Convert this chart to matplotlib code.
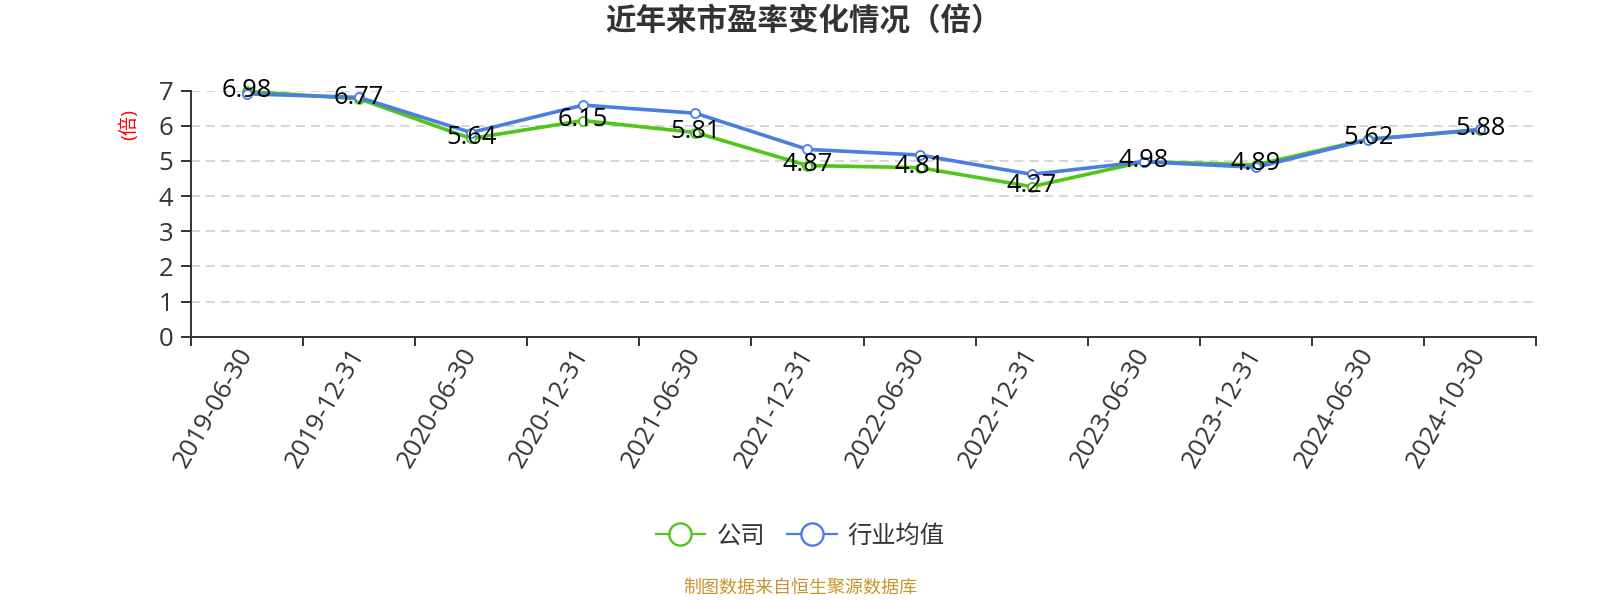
import matplotlib
matplotlib.use("Agg")
import matplotlib.pyplot as plt
from matplotlib.lines import Line2D

plt.rcParams['font.family'] = ['Open Sans', 'Noto Sans CJK SC', 'DejaVu Sans']

dates = ['2019-06-30', '2019-12-31', '2020-06-30', '2020-12-31', '2021-06-30', '2021-12-31',
         '2022-06-30', '2022-12-31', '2023-06-30', '2023-12-31', '2024-06-30', '2024-10-30']
company = [6.98, 6.77, 5.64, 6.15, 5.81, 4.87, 4.81, 4.27, 4.98, 4.89, 5.62, 5.88]
industry = [6.91, 6.81, 5.81, 6.59, 6.36, 5.33, 5.17, 4.62, 4.98, 4.82, 5.61, 5.90]
series_names = ['公司', '行业均值']
yticks = [0, 1, 2, 3, 4, 5, 6, 7]

green = '#52c41a'
blue = '#4a7ee0'
axis_c = '#333333'

W, H = 1600, 600
fig = plt.figure(figsize=(16, 6), dpi=100)
ax = fig.add_axes([190.7 / W, (H - 336.7) / H, 1345.7 / W, 246.0 / H])

x = list(range(len(dates)))
ax.plot(x, company, color=green, lw=2.6, marker='o', ms=6.5, mfc='white', mec=green, mew=1.3, zorder=3,
        clip_on=False)
ax.plot(x, industry, color=blue, lw=2.6, marker='o', ms=6.5, mfc='white', mec=blue, mew=1.3, zorder=4,
        clip_on=False)

for i, v in enumerate(company):
    ax.annotate(f'{v:.2f}', (i, v), xytext=(0, -3.8), textcoords='offset points',
                ha='center', va='baseline', fontsize=18.3, color='black', zorder=10)

ax.set_xlim(-0.5, len(dates) - 0.5)
ax.set_ylim(0, 7)
ax.set_yticks(yticks)
ax.set_yticklabels([str(t) for t in yticks])

ax.set_xticks(x)
ax.set_xticklabels(dates, rotation=60, ha='right', va='center', rotation_mode='anchor')
ax.set_xticks([i - 0.5 for i in range(len(dates) + 1)], minor=True)
ax.tick_params(axis='x', which='major', length=0, pad=9.5, labelsize=18.5, labelcolor=axis_c)
ax.tick_params(axis='x', which='minor', length=6.5, width=1.4, color=axis_c, direction='out')
ax.tick_params(axis='y', length=7, width=1.4, color=axis_c, pad=5.5, labelsize=18.5, labelcolor=axis_c)

for s in ['top', 'right']:
    ax.spines[s].set_visible(False)
for s in ['left', 'bottom']:
    ax.spines[s].set_color(axis_c)
    ax.spines[s].set_linewidth(1.4)

ax.yaxis.grid(True, linestyle=(0, (5.9, 3.9)), color='#cccccc', linewidth=1.1)
ax.set_axisbelow(True)

fig.text(804 / W, 1 - 23 / H, '近年来市盈率变化情况（倍）', ha='center', va='center',
         fontsize=22, fontweight='bold', color=axis_c)
fig.text(129 / W, 1 - 125 / H, '(倍)', rotation=90, ha='center', va='center', fontsize=14, color='red')

handles = [Line2D([0], [0], color=green, lw=1.6, marker='o', ms=16, mfc='white', mec=green, mew=1.7),
           Line2D([0], [0], color=blue, lw=1.6, marker='o', ms=16, mfc='white', mec=blue, mew=1.7)]
leg = fig.legend(handles, series_names, loc='center', bbox_to_anchor=(0.5, 1 - 537 / H), ncol=2,
                 frameon=False, fontsize=17.5, handlelength=2.05, handletextpad=0.45, columnspacing=0.9)
for t in leg.get_texts():
    t.set_color(axis_c)

fig.text(0.5, 1 - 588 / H, '制图数据来自恒生聚源数据库', ha='center', va='center', fontsize=13,
         color='#c8952c')

fig.savefig('out.png', dpi=100)
